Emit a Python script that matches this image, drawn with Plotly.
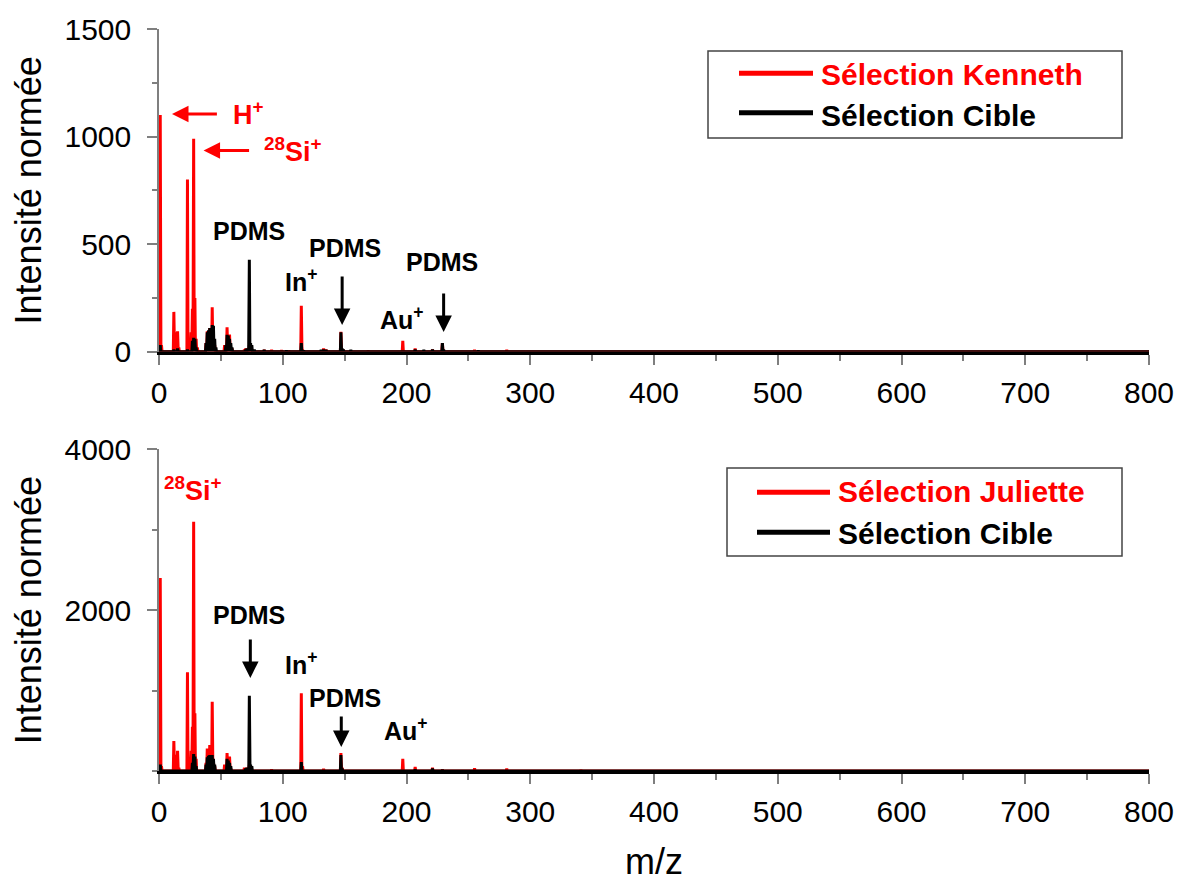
import plotly.graph_objects as go

# ---------------- data (peak lists) ----------------
# Top panel: Sélection Kenneth (red)
kenneth_mz = [1, 2, 12, 13, 14, 15, 16, 23, 24, 25, 26, 27, 28, 29, 30, 31,
              38, 39, 40, 41, 42, 43, 44, 45, 53, 55, 56, 57, 58, 59, 69, 70,
              71, 73, 75, 85, 91, 99, 105, 115, 116, 133, 135, 147, 149, 169,
              197, 207, 221, 229, 255, 281]
kenneth_int = [1100, 30, 185, 60, 90, 95, 20, 800, 60, 30, 90, 200, 990, 250, 60, 20,
               40, 95, 60, 110, 90, 207, 60, 30, 30, 113, 60, 80, 20, 15, 10, 15,
               15, 30, 10, 8, 8, 6, 5, 214, 10, 15, 10, 92, 8, 5,
               50, 15, 10, 40, 8, 8]

# Top panel: Sélection Cible (black)
cible1_mz = [1, 12, 15, 23, 27, 28, 29, 30, 38, 39, 40, 41, 42, 43, 44, 45, 46,
             54, 55, 56, 57, 58, 59, 70, 71, 72, 73, 74, 75, 77, 85, 103, 115,
             117, 131, 133, 135, 147, 148, 149, 155, 207, 214, 221, 229, 230, 258]
cible1_int = [30, 10, 15, 10, 50, 64, 60, 20, 40, 90, 100, 110, 105, 124, 120, 60, 20,
              30, 78, 75, 60, 40, 20, 10, 15, 15, 427, 40, 30, 10, 8, 5, 40,
              5, 8, 10, 8, 90, 15, 10, 8, 10, 8, 10, 40, 10, 5]

# Bottom panel: Sélection Juliette (red)
juliette_mz = [1, 2, 12, 13, 14, 15, 16, 23, 24, 25, 26, 27, 28, 29, 30, 38,
               39, 40, 41, 42, 43, 44, 45, 53, 55, 56, 57, 58, 69, 71, 73, 91,
               115, 116, 133, 147, 148, 197, 207, 221, 229, 255, 281, 341]
juliette_int = [2400, 60, 373, 100, 200, 250, 40, 1227, 150, 80, 250, 550, 3100, 717, 150, 100,
                280, 150, 323, 200, 862, 120, 60, 80, 224, 120, 180, 30, 40, 40, 80, 20,
                966, 60, 25, 224, 40, 150, 50, 40, 20, 35, 30, 15]

# Bottom panel: Sélection Cible (black)
cible2_mz = [1, 27, 28, 29, 30, 38, 39, 40, 41, 42, 43, 44, 45, 55, 56, 57, 58,
             70, 71, 72, 73, 74, 75, 115, 147, 148, 207, 221, 229]
cible2_int = [80, 100, 211, 180, 60, 80, 170, 190, 199, 190, 199, 150, 80, 150, 130, 100, 60,
              30, 40, 40, 937, 80, 60, 112, 199, 30, 20, 30, 15]

legend_top = ["Sélection Kenneth", "Sélection Cible"]
legend_bottom = ["Sélection Juliette", "Sélection Cible"]

X_MAX = 800
RED = "#ff0000"
BLACK = "#000000"
GRAY = "#7f7f7f"
FONT = "Liberation Sans, Arial, sans-serif"


def stick(mz, inten):
    """Turn a peak list into a stick-spectrum polyline along the baseline."""
    xs, ys = [0], [0]
    for m, h in zip(mz, inten):
        xs += [m - 0.45, m, m + 0.45]
        ys += [0, h, 0]
    xs.append(X_MAX)
    ys.append(0)
    return xs, ys


fig = go.Figure()

for (mz, it, col, name, xa, ya) in [
    (kenneth_mz, kenneth_int, RED, legend_top[0], "x", "y"),
    (cible1_mz, cible1_int, BLACK, legend_top[1], "x", "y"),
    (juliette_mz, juliette_int, RED, legend_bottom[0], "x2", "y2"),
    (cible2_mz, cible2_int, BLACK, legend_bottom[1], "x2", "y2"),
]:
    xs, ys = stick(mz, it)
    fig.add_trace(go.Scatter(
        x=xs, y=ys, mode="lines", xaxis=xa, yaxis=ya,
        line=dict(color=col, width=3), name=name, showlegend=False,
        hoverinfo="x+y",
    ))

# ---------------- layout ----------------
H = 882
T, B = 29, 111
plot_h = H - T - B
PLOT_W = 990
top_dom = [(771 - 351.7) / plot_h, 1.0]
bot_dom = [0.0, (771 - 449.3) / plot_h]

tickfont = dict(family=FONT, size=30, color="black")
titlefont = dict(family=FONT, size=36, color="black")


def px_x(px):
    return (px - 159) / PLOT_W


def px_y(py):
    return (771 - py) / plot_h


def xax(anchor, title=None):
    d = dict(
        anchor=anchor, domain=[0, 1], range=[0, X_MAX], automargin=False,
        tickmode="linear", tick0=0, dtick=100,
        ticks="outside", ticklen=10, tickwidth=1.5, tickcolor=GRAY,
        minor=dict(dtick=50, ticks="outside", ticklen=6, tickwidth=1.5, tickcolor=GRAY),
        showline=True, linecolor=BLACK, linewidth=3,
        showgrid=False, zeroline=False, tickfont=tickfont, ticklabelstandoff=2,
    )
    if title:
        d["title"] = dict(text=title, font=titlefont, standoff=36)
    return d


def yax(anchor, domain, rng, tickvals, minor_dtick):
    return dict(
        anchor=anchor, domain=domain, range=rng, automargin=False,
        tickmode="array", tickvals=tickvals,
        ticks="outside", ticklen=10, tickwidth=1.5, tickcolor=GRAY,
        minor=dict(tickmode="linear", tick0=0, dtick=minor_dtick, ticks="outside",
                   ticklen=5, tickwidth=1.5, tickcolor=GRAY),
        showline=True, linecolor=GRAY, linewidth=1.5,
        showgrid=False, zeroline=False, tickfont=tickfont, ticklabelstandoff=10,
        title=dict(text="Intensité normée", font=titlefont, standoff=12),
    )


def top_overlay_x(overlay, anchor):
    return dict(
        overlaying=overlay, anchor=anchor, side="top", range=[0, X_MAX], automargin=False,
        tickmode="linear", tick0=0, dtick=50, ticks="inside", ticklen=5,
        tickwidth=1.5, tickcolor=GRAY, showticklabels=False,
        showline=True, linecolor=GRAY, linewidth=1.5, showgrid=False, zeroline=False,
    )


def right_overlay_y(overlay, anchor, rng, dtick, minor_dtick):
    return dict(
        overlaying=overlay, anchor=anchor, side="right", range=rng, automargin=False,
        tickmode="linear", tick0=0, dtick=dtick, ticks="inside", ticklen=12,
        tickwidth=1.5, tickcolor=GRAY, showticklabels=False,
        minor=dict(tickmode="linear", tick0=0, dtick=minor_dtick, ticks="inside",
                   ticklen=6, tickwidth=1.5, tickcolor=GRAY),
        showline=True, linecolor=GRAY, linewidth=1.5, showgrid=False, zeroline=False,
    )


fig.update_layout(
    width=1185, height=882,
    margin=dict(l=159, r=36, t=T, b=B, autoexpand=False),
    paper_bgcolor="white", plot_bgcolor="white",
    showlegend=False,
    xaxis=xax("y"),
    yaxis=yax("x", top_dom, [0, 1500], [0, 500, 1000, 1500], 250),
    xaxis2=xax("y2", title="m/z"),
    yaxis2=yax("x2", bot_dom, [0, 4000], [2000, 4000], 1000),
    xaxis3=top_overlay_x("x", "y"),
    yaxis3=right_overlay_y("y", "x", [0, 1500], 500, 250),
    xaxis4=top_overlay_x("x2", "y2"),
    yaxis4=right_overlay_y("y2", "x2", [0, 4000], 2000, 1000),
)

# ---------------- legend boxes (drawn as shapes + text) ----------------
leg_font = dict(family=FONT, size=30, weight="bold")


def legend_box(left, top, right, bottom, line_x0, line_x1, text_x, rows, names):
    fig.add_shape(type="rect", xref="paper", yref="paper",
                  x0=px_x(left), x1=px_x(right), y0=px_y(bottom), y1=px_y(top),
                  line=dict(color="#444444", width=1.5), fillcolor="white", layer="above")
    for (ly, ty), name, col in zip(rows, names, [RED, BLACK]):
        fig.add_shape(type="line", xref="paper", yref="paper",
                      x0=px_x(line_x0), x1=px_x(line_x1), y0=px_y(ly), y1=px_y(ly),
                      line=dict(color=col, width=5), layer="above")
        fig.add_annotation(text=name, xref="paper", yref="paper", x=px_x(text_x),
                           y=px_y(ty), xanchor="left", yanchor="middle", showarrow=False,
                           font=dict(color=col, **leg_font))


legend_box(708, 51, 1122, 138, 739, 813, 819, [(73.3, 75), (112.7, 115)], legend_top)
legend_box(727, 468, 1122, 556, 757, 830, 836, [(492.3, 492), (532.3, 533)], legend_bottom)

# ---------------- annotations ----------------
ann_font_red = dict(family=FONT, size=27, color=RED, weight="bold")
ann_font_blk = dict(family=FONT, size=25, color=BLACK, weight="bold")


def label(text, x, y, font, xref, yref, xanchor="center"):
    fig.add_annotation(text=text, x=x, y=y, xref=xref, yref=yref, showarrow=False,
                       font=font, xanchor=xanchor, yanchor="middle")


def arrow(x, y, ax, ay, color, xref, yref):
    fig.add_annotation(text="", x=x, y=y, ax=ax, ay=ay, xref=xref, yref=yref,
                       axref=xref, ayref=yref, showarrow=True, arrowhead=2,
                       arrowsize=1.1, arrowwidth=3, arrowcolor=color, standoff=0)


# top panel
label("H<sup>+</sup>", 58, 1111, ann_font_red, "x", "y", "left")
arrow(10.5, 1105, 48, 1105, RED, "x", "y")
label("<sup>28</sup>Si<sup>+</sup>", 83, 939, ann_font_red, "x", "y", "left")
arrow(36, 935, 74, 935, RED, "x", "y")
label("PDMS", 73, 562, ann_font_blk, "x", "y")
label("In<sup>+</sup>", 115, 334, ann_font_blk, "x", "y")
label("PDMS", 150.4, 482, ann_font_blk, "x", "y")
arrow(148, 124, 148, 357, BLACK, "x", "y")
label("Au<sup>+</sup>", 196, 157, ann_font_blk, "x", "y")
label("PDMS", 229, 417, ann_font_blk, "x", "y")
arrow(230, 92, 230, 278, BLACK, "x", "y")

# bottom panel
label("<sup>28</sup>Si<sup>+</sup>", 27.6, 3507, ann_font_red, "x2", "y2")
label("PDMS", 73, 1940, ann_font_blk, "x2", "y2")
arrow(73.8, 1157, 73.8, 1654, BLACK, "x2", "y2")
label("In<sup>+</sup>", 115, 1343, ann_font_blk, "x2", "y2")
label("PDMS", 150.4, 908, ann_font_blk, "x2", "y2")
arrow(147.3, 299, 147.3, 697, BLACK, "x2", "y2")
label("Au<sup>+</sup>", 199.5, 522, ann_font_blk, "x2", "y2")

fig.write_html("out.html", config={"displayModeBar": False},
               post_script="document.body.style.margin='0';document.body.style.overflow='hidden';")
